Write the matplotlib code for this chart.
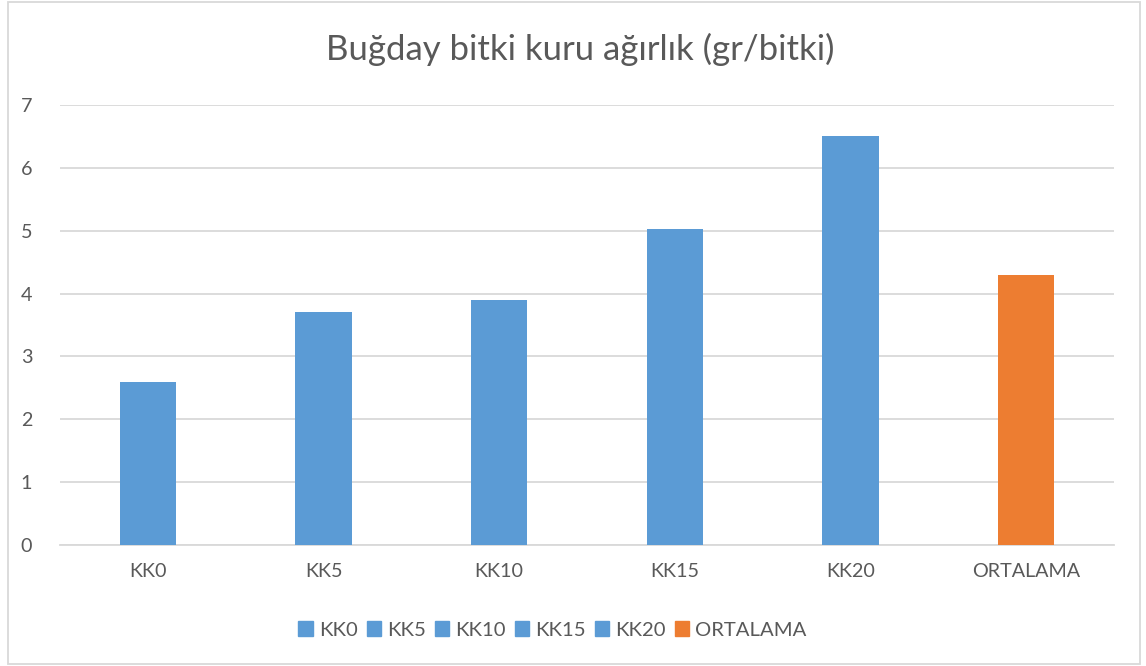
import matplotlib.pyplot as plt
from matplotlib.patches import Patch, Rectangle

plt.rcParams['font.family'] = ['Lato', 'DejaVu Sans']

categories = ["KK0", "KK5", "KK10", "KK15", "KK20", "ORTALAMA"]
values = [2.59, 3.70, 3.89, 5.02, 6.50, 4.29]
colors = ["#5b9bd5"] * 5 + ["#ed7d31"]
title = "Buğday bitki kuru ağırlık (gr/bitki)"

txt = "#595959"

fig = plt.figure(figsize=(11.46, 6.66), dpi=100)
ax = fig.add_axes([0.0524, 0.1817, 0.9196, 0.6607])

x = range(len(categories))
ax.bar(x, values, width=0.32, color=colors, zorder=3)

ax.set_xlim(-0.5, len(categories) - 0.5)
ax.set_ylim(0, 7)
ax.set_yticks(range(8))
ax.set_xticks(list(x))
ax.set_xticklabels(categories)
ax.grid(axis="y", color="#d9d9d9", linewidth=1.3, zorder=0)
for s in ["top", "right", "left"]:
    ax.spines[s].set_visible(False)
ax.spines["bottom"].set_color("#d9d9d9")
ax.spines["bottom"].set_linewidth(1.3)
ax.tick_params(axis="both", length=0, labelsize=14.2, colors=txt)
ax.tick_params(axis="x", pad=13)
ax.tick_params(axis="y", pad=20)

fig.text(0.506, 0.926, title, ha="center", va="center", fontsize=25, color=txt)

handles = [Patch(color=c) for c in colors]
fig.legend(handles, categories, loc="center", bbox_to_anchor=(0.482, 0.054), ncol=6,
           frameon=False, fontsize=14.6, labelcolor=txt, handlelength=0.7, handleheight=0.7,
           handletextpad=0.3, columnspacing=0.45)

fig.patches.append(Rectangle((0.007, 0.003), 0.988, 0.994, transform=fig.transFigure,
                             fill=False, edgecolor="#d9d9d9", linewidth=1.3))

fig.savefig("out.png", dpi=100, facecolor="white")
